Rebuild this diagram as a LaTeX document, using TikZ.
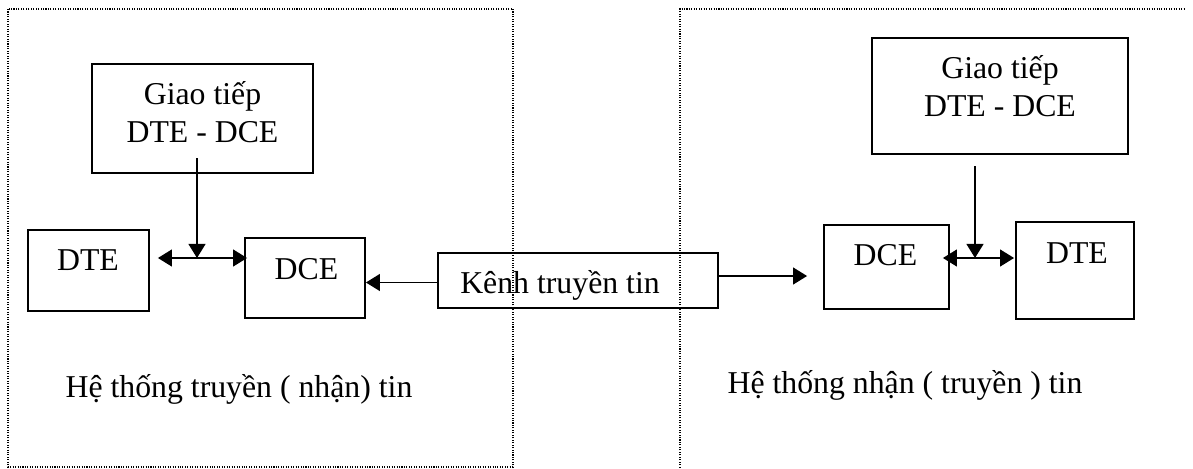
\documentclass[tikz,border=0pt]{standalone}
\usepackage{fontspec}
\XeTeXinputnormalization=1
\setmainfont{Liberation Serif}
\usetikzlibrary{arrows, arrows.meta}
\usetikzlibrary{calc}

\begin{document}
\begin{tikzpicture}[x=0.025cm, y=-0.025cm,
    box/.style={draw, line width=1.3pt, inner sep=0pt},
    txt/.style={inner sep=0pt, anchor=base, font=\fontsize{22.6}{27}\selectfont},
    frame/.style={densely dotted, line width=0.75pt},
    link/.style={line width=1.3pt},
    tip/.style={-{Triangle[length=10pt, width=12pt]}},
    tips/.style={{Triangle[length=10pt, width=12pt]}-{Triangle[length=10pt, width=12pt]}}]
    \useasboundingbox (0,0) rectangle (1193,468);

    \draw[frame] (8,9) rectangle (513,467);
    \draw[frame] (680,475) -- (680,9) -- (1184,9);

    \node[box, minimum width=221*0.025cm, minimum height=109*0.025cm] (giaoL) at (202.5,118.5) {};
    \node[box, minimum width=121*0.025cm, minimum height=81*0.025cm] (dteL) at (88.5,270.5) {};
    \node[box, minimum width=120*0.025cm, minimum height=80*0.025cm] (dceL) at (305,278) {};
    \node[box, minimum width=280*0.025cm, minimum height=55*0.025cm] (kenh) at (578,280.5) {};
    \node[box, minimum width=256*0.025cm, minimum height=116*0.025cm] (giaoR) at (1000,96) {};
    \node[box, minimum width=125*0.025cm, minimum height=84*0.025cm] (dceR) at (886.5,267) {};
    \node[box, minimum width=118*0.025cm, minimum height=97*0.025cm] (dteR) at (1075,270.5) {};

    \node[txt, align=center] (giaoLtxt) at (202.5,142) {Giao tiếp\\DTE - DCE};
    \node[txt] (dteLtxt) at (88,270) {DTE};
    \node[txt] (dceLtxt) at (306.5,279) {DCE};
    \node[txt, anchor=base west] (kenhtxt) at (460,293) {Kênh truyền tin};
    \node[txt, align=center] (giaoRtxt) at (1000,116) {Giao tiếp\\DTE - DCE};
    \node[txt] (dceRtxt) at (885.5,265) {DCE};
    \node[txt] (dteRtxt) at (1077,263) {DTE};
    \node[txt] (hetL) at (239,397) {Hệ thống truyền ( nhận) tin};
    \node[txt] (hetR) at (905,393) {Hệ thống nhận ( truyền ) tin};

    \coordinate (jL) at (197,258);
    \coordinate (jR) at (975,258);
    \draw[link, tips] ($(dteL.east)+(8,-12.5)$) -- ($(dceL.west)+(3,-20)$);
    \draw[link, tip] ($(jL)+(0,-100)$) -- (jL);
    \draw[link, tips] ($(dceR.east)+(-7,-9)$) -- ($(dteR.west)+(-1,-12.5)$);
    \draw[link, tip] ($(jR)+(0,-92)$) -- (jR);
    \draw[link, tip] ($(kenh.west)+(0,2)$) -- ($(dceL.east |- kenh.west)+(0,2)$);
    \draw[link, tip] ($(kenh.east)+(0,-4.5)$) -- ($(dceR.west)+(-16,9)$);
\end{tikzpicture}
\end{document}
